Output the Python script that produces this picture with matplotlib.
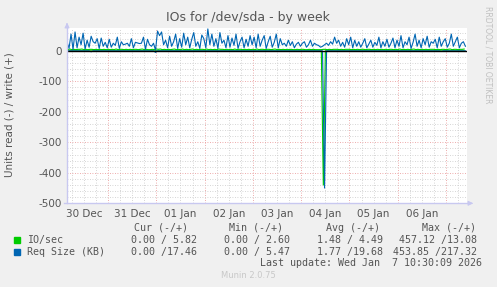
import numpy as np
import matplotlib.pyplot as plt

# hours relative to 31 Dec 00:00, one sample per hour
t_start = -20.4

# Req Size (KB), write side (+)
req_write = [30, 8, 55, 5, 62, 10, 45, 20, 58, 6, 35, 12, 48, 30, 25, 40, 8, 42, 15, 28,
             10, 38, 12, 25, 18, 45, 8, 30, 20, 22, 25, 15, 40, 10, 28, 26, 24, 25, 45, 5, 38, 20, 15, 25,
             2, 65, 50, 62, 20, 35, 10, 48, 15, 30, 55, 8, 40, 12, 58, 20, 45, 10, 38, 60, 15, 30, 8, 52,
             40, 10, 72, 20, 55, 15, 40, 8, 60, 25, 35, 10, 50, 12, 42, 18, 55, 8, 30, 45, 10, 38, 15, 50,
             20, 45, 10, 55, 15, 35, 50, 8, 30, 48, 12, 28, 55, 10, 40, 20, 25, 15, 35, 18, 30, 10, 22, 28,
             15, 25, 30, 12, 20, 35, 15, 25, 20, 18, 12, 15, 20, 25, 18, 30, 22, 45, 25, 35, 15, 28, 12, 40,
             20, 45, 10, 35, 15, 30, 12, 25, 40, 10, 22, 35, 12, 28, 18, 45, 10, 30, 15, 38, 12, 25, 42, 10,
             35, 15, 50, 10, 30, 20, 45, 8, 28, 55, 15, 35, 10, 40, 20, 48, 12, 30, 25, 38, 10, 45, 15, 30,
             40, 12, 25, 55, 15, 30, 45, 10, 25, 30, 15]

# IO/sec, write side (+)
io_write = [5, 4, 6, 4, 5, 4, 5, 5, 6, 4, 5, 4, 5, 5, 4, 5, 4, 5, 4, 5,
            4, 5, 4, 5, 4, 6, 4, 5, 5, 4, 5, 4, 5, 4, 5, 5, 4, 5, 6, 4, 5, 4, 4, 5,
            4, 6, 5, 6, 4, 5, 4, 5, 4, 5, 6, 4, 5, 4, 6, 4, 5, 4, 5, 6, 4, 5, 4, 5,
            5, 4, 6, 4, 5, 4, 5, 4, 6, 5, 5, 4, 5, 4, 5, 4, 6, 4, 5, 5, 4, 5, 4, 5,
            4, 5, 4, 6, 4, 5, 5, 4, 5, 5, 4, 5, 6, 4, 5, 4, 5, 4, 5, 4, 5, 4, 4, 5,
            4, 5, 5, 4, 4, 5, 4, 5, 4, 4, 4, 4, 5, 5, 4, 5, 4, 5, 5, 5, 4, 5, 4, 5,
            5, 5, 4, 5, 4, 5, 4, 5, 5, 4, 5, 5, 4, 5, 4, 5, 4, 5, 4, 5, 4, 5, 5, 4,
            5, 4, 6, 4, 5, 4, 5, 4, 5, 6, 4, 5, 4, 5, 4, 5, 4, 5, 5, 5, 4, 5, 4, 5,
            5, 4, 5, 6, 4, 5, 5, 4, 5, 5, 6]

# read side (-): only non-zero samples
req_read_idx = [12, 44, 128, 186]
req_read_val = [3, 5, 450, 2]
io_read_idx = [128]
io_read_val = [440]

day_labels = ["30 Dec", "31 Dec", "01 Jan", "02 Jan", "03 Jan", "04 Jan", "05 Jan", "06 Jan"]

legend_rows = [("IO/sec", "#00CC00", "0.00 / 5.82", "0.00 / 2.60", "1.48 / 4.49", "457.12 /13.08"),
               ("Req Size (KB)", "#0066B3", "0.00 /17.46", "0.00 / 5.47", "1.77 /19.68", "453.85 /217.32")]

n = len(req_write)
t = t_start + np.arange(n)
req_read = np.zeros(n)
req_read[req_read_idx] = req_read_val
io_read = np.zeros(n)
io_read[io_read_idx] = io_read_val

fig = plt.figure(figsize=(4.97, 2.87), dpi=100, facecolor="#F0F0F0")
ax = fig.add_axes([67 / 497, 83.7 / 287, 400 / 497, 175.3 / 287])
ax.set_facecolor("white")

x0, x1 = t_start, 178.4
ax.set_xlim(x0, x1)
ax.set_ylim(-500, 75)

# grid
for h in np.arange(-18, x1, 6):
    if h % 24 != 0:
        ax.axvline(h, color="#c8c8c8", lw=0.6, ls=(0, (1, 2)), zorder=0)
for h in np.arange(0, x1, 24):
    ax.axvline(h, color="#e89090", lw=0.6, ls=(0, (1, 2)), zorder=0)
for v in np.arange(-480, 75, 20):
    if v % 100 != 0:
        ax.axhline(v, color="#c8c8c8", lw=0.6, ls=(0, (1, 2)), zorder=0)
for v in [-400, -300, -200, -100]:
    ax.axhline(v, color="#e89090", lw=0.6, ls=(0, (1, 2)), zorder=0)

ax.plot(t - 0.6, io_write, color="#00CC00", lw=0.8, zorder=3)
ax.plot(t - 0.6, -io_read, color="#00CC00", lw=0.8, zorder=3)
ax.plot(t, req_write, color="#0066B3", lw=0.8, zorder=4)
ax.plot(t, -req_read, color="#0066B3", lw=0.8, zorder=4)
ax.axhline(0, color="black", lw=1, zorder=5)

for s in ax.spines.values():
    s.set_visible(False)
ax.set_yticks([0, -100, -200, -300, -400, -500])
ax.set_yticklabels(["0", "-100", "-200", "-300", "-400", "-500"])
ax.set_xticks(np.arange(-12, 160, 24))
ax.set_xticklabels(day_labels)
ax.tick_params(length=0, labelsize=7.5, colors="#555555", pad=4)

# axis lines with arrows
fig.add_artist(plt.Line2D([67 / 497, 67 / 497], [83.7 / 287, 1 - 25 / 287], color="#c8c8f0", lw=1))
fig.add_artist(plt.Line2D([64 / 497, 470 / 497], [83.7 / 287, 83.7 / 287], color="#c8c8f0", lw=1))
ax.annotate("", xy=(67 / 497, 1 - 20 / 287), xytext=(67 / 497, 1 - 27 / 287), xycoords="figure fraction",
            arrowprops=dict(arrowstyle="-|>", color="#c8c8f0", lw=0.8, mutation_scale=7))
ax.annotate("", xy=(476 / 497, 83.7 / 287), xytext=(468 / 497, 83.7 / 287), xycoords="figure fraction",
            arrowprops=dict(arrowstyle="-|>", color="#c8c8f0", lw=0.8, mutation_scale=7))

fig.text(248 / 497, 1 - 18 / 287, "IOs for /dev/sda - by week", ha="center", va="center",
         fontsize=9, color="#555555")
fig.text(10 / 497, 1 - 115 / 287, "Units read (-) / write (+)", rotation=90, ha="center", va="center",
         fontsize=7.5, color="#555555")
fig.text(488 / 497, 1 - 55 / 287, "RRDTOOL / TOBI OETIKER", rotation=270, ha="center", va="center",
         fontsize=5.5, color="#c0c0c0")

mono = dict(family="DejaVu Sans Mono", fontsize=7.2, color="#555555", va="center")
cols = [197, 290, 383, 477]
fig.text(188 / 497, 1 - 228 / 287, "Cur (-/+)", ha="right", **mono)
fig.text(283 / 497, 1 - 228 / 287, "Min (-/+)", ha="right", **mono)
fig.text(380 / 497, 1 - 228 / 287, "Avg (-/+)", ha="right", **mono)
fig.text(476 / 497, 1 - 228 / 287, "Max (-/+)", ha="right", **mono)
for i, row in enumerate(legend_rows):
    y = 1 - (240 + 12 * i) / 287
    fig.patches.append(plt.Rectangle((14 / 497, y - 3 / 287), 6 / 497, 6 / 287, color=row[1],
                                     transform=fig.transFigure, figure=fig))
    fig.text(27 / 497, y, row[0], ha="left", **mono)
    for c, val in zip(cols, row[2:]):
        fig.text(c / 497, y, val, ha="right", **mono)
fig.text(482 / 497, 1 - 263 / 287, "Last update: Wed Jan  7 10:30:09 2026", ha="right", **mono)
fig.text(248 / 497, 1 - 276 / 287, "Munin 2.0.75", ha="center", va="center", fontsize=6, color="#c8c8c8")

fig.savefig("out.png", dpi=100, facecolor=fig.get_facecolor())
